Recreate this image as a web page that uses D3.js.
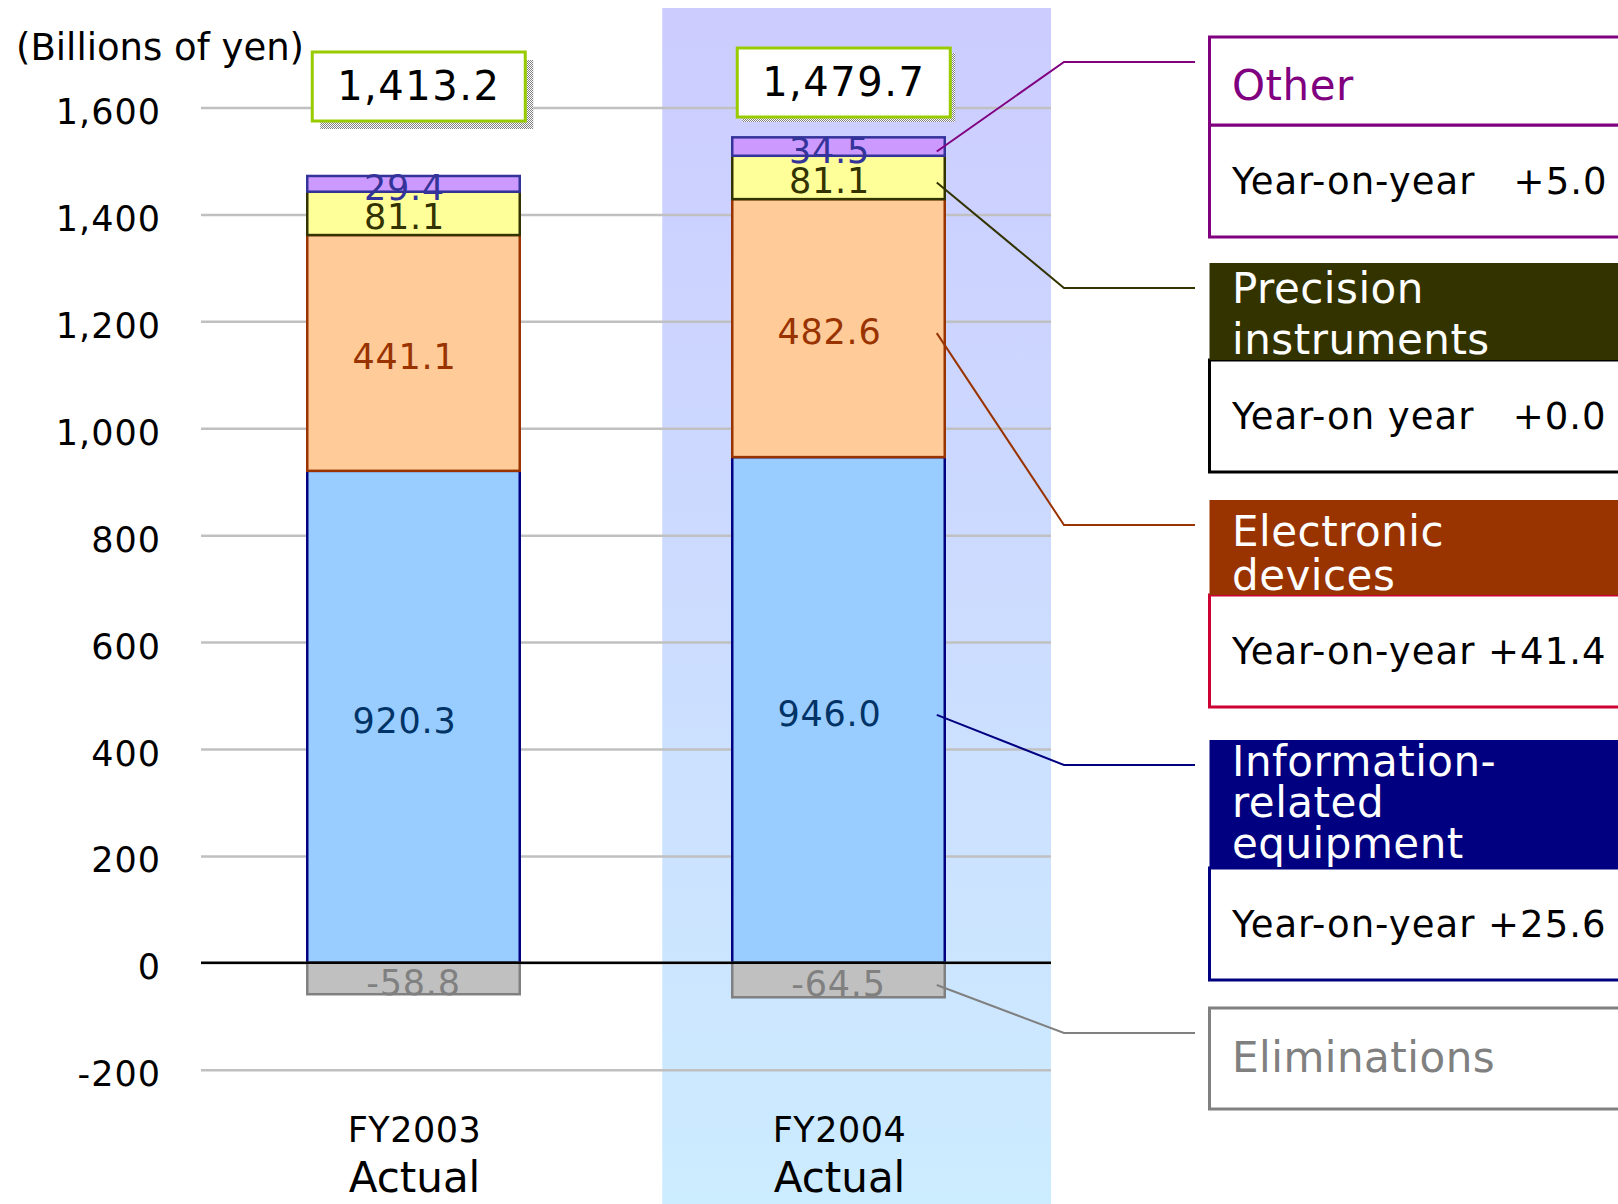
<!DOCTYPE html>
<html>
<head>
<meta charset="utf-8">
<title>Net sales by segment, FY2003 vs FY2004</title>
<script src="https://cdn.jsdelivr.net/npm/d3@7"></script>
<style>
  html, body { margin: 0; padding: 0; background: #ffffff; }
  svg { display: block; font-family: "DejaVu Sans", "Noto Sans", sans-serif; }
</style>
</head>
<body>
<svg id="chart" width="1618" height="1204"></svg>
<script>
// ---- data (billions of yen) ----
const categories = ["FY2003", "FY2004"];
const categorySubtitles = ["Actual", "Actual"];
const infoValues = [920.3, 946.0];
const electronicValues = [441.1, 482.6];
const precisionValues = [81.1, 81.1];
const otherValues = [29.4, 34.5];
const eliminationValues = [-58.8, -64.5];
const totals = [1413.2, 1479.7];
const yTicks = [-200, 0, 200, 400, 600, 800, 1000, 1200, 1400, 1600];
const segmentNames = ["Information-related equipment", "Electronic devices", "Precision instruments", "Other", "Eliminations"];
const yoyPrefix = ["Year-on-year ", "Year-on-year ", "Year-on year   ", "Year-on-year   "];
const yoyChange = [25.6, 41.4, 0.0, 5.0];
const unitLabel = "(Billions of yen)";

// ---- scales ----
const svg = d3.select("#chart");
const x = d3.scaleBand().domain(categories).range([201, 1051]).paddingInner(0.5).paddingOuter(0.25);
const y = d3.scaleLinear().domain([-200, 1600]).range([1069.7, 107.5]);
const bw = x.bandwidth();

const series = [
  { name: segmentNames[0], values: infoValues,        fill: "#99CCFF", stroke: "#000080", text: "#003366", dx: -9 },
  { name: segmentNames[1], values: electronicValues,  fill: "#FFCC99", stroke: "#993300", text: "#993300", dx: -9 },
  { name: segmentNames[2], values: precisionValues,   fill: "#FFFF99", stroke: "#333300", text: "#333300", dx: -9 },
  { name: segmentNames[3], values: otherValues,       fill: "#CC99FF", stroke: "#333399", text: "#333399", dx: -9 },
  { name: segmentNames[4], values: eliminationValues, fill: "#C0C0C0", stroke: "#808080", text: "#808080", dx: 0 }
];

// stack positive values upward from zero, negative values downward
const segs = [];
categories.forEach((c, ci) => {
  let pos = 0, neg = 0;
  series.forEach((s, si) => {
    const v = s.values[ci];
    let v0, v1;
    if (v >= 0) { v0 = pos; v1 = pos + v; pos = v1; }
    else { v0 = neg; v1 = neg + v; neg = v1; }
    segs.push({ cat: c, ci, si, s, v, v0, v1 });
  });
});

// ---- defs: highlight gradient and checkered shadow ----
const defs = svg.append("defs");
const grad = defs.append("linearGradient").attr("id", "hl").attr("x1", 0).attr("y1", 0).attr("x2", 0).attr("y2", 1);
grad.append("stop").attr("offset", "0%").attr("stop-color", "#CCCCFF");
grad.append("stop").attr("offset", "100%").attr("stop-color", "#CCECFF");
const pat = defs.append("pattern").attr("id", "checker").attr("width", 2).attr("height", 2)
  .attr("patternUnits", "userSpaceOnUse");
pat.append("rect").attr("width", 2).attr("height", 2).attr("fill", "#ffffff");
pat.append("rect").attr("width", 1).attr("height", 1).attr("fill", "#808080");
pat.append("rect").attr("x", 1).attr("y", 1).attr("width", 1).attr("height", 1).attr("fill", "#808080");

// highlighted current-year column
svg.append("rect")
  .attr("x", x("FY2004") - 70).attr("y", 8)
  .attr("width", x.range()[1] - (x("FY2004") - 70)).attr("height", 1204 - 8)
  .attr("fill", "url(#hl)");

// ---- y axis with gridlines ----
const fmt = v => d3.format(",")(v).replace("\u2212", "-");
const yAxis = d3.axisLeft(y).tickValues(yTicks).tickFormat(fmt)
  .tickSizeInner(-(x.range()[1] - x.range()[0])).tickSizeOuter(0).tickPadding(40);
const gAxis = svg.append("g").attr("transform", `translate(${x.range()[0]},0)`).call(yAxis);
gAxis.select(".domain").remove();
gAxis.selectAll(".tick line").attr("stroke", "#C0C0C0").attr("stroke-width", 2.5);
gAxis.selectAll(".tick text")
  .attr("fill", "#000").attr("font-size", 35).attr("letter-spacing", 1)
  .attr("font-family", "DejaVu Sans").attr("dy", "0.46em");

// ---- stacked bars ----
svg.append("g").selectAll("rect").data(segs).join("rect")
  .attr("x", d => x(d.cat))
  .attr("y", d => y(Math.max(d.v0, d.v1)))
  .attr("width", bw)
  .attr("height", d => Math.abs(y(d.v0) - y(d.v1)))
  .attr("fill", d => d.s.fill)
  .attr("stroke", d => d.s.stroke)
  .attr("stroke-width", 2.5);

// zero baseline
svg.append("line")
  .attr("x1", x.range()[0]).attr("x2", x.range()[1])
  .attr("y1", y(0)).attr("y2", y(0))
  .attr("stroke", "#000").attr("stroke-width", 2.5);

// segment value labels
svg.append("g").selectAll("text").data(segs).join("text")
  .attr("x", d => x(d.cat) + bw / 2 + d.s.dx)
  .attr("y", d => (y(d.v0) + y(d.v1)) / 2 + 16)
  .attr("text-anchor", "middle")
  .attr("font-size", 35)
  .attr("letter-spacing", 0.8)
  .attr("fill", d => d.s.text)
  .text(d => d3.format(".1f")(d.v).replace("\u2212", "-"));

// ---- totals boxes ----
const boxTop = [52, 48];
const boxShadow = [8, 5];
const gTot = svg.append("g");
categories.forEach((c, i) => {
  const bx = x(c) + 5, bwid = 213, bh = 69, by = boxTop[i], off = boxShadow[i];
  gTot.append("rect").attr("x", bx + off).attr("y", by + off).attr("width", bwid).attr("height", bh)
    .attr("fill", "url(#checker)");
  gTot.append("rect").attr("x", bx).attr("y", by).attr("width", bwid).attr("height", bh)
    .attr("fill", "#fff").attr("stroke", "#99CC00").attr("stroke-width", 3);
  gTot.append("text").attr("x", bx + bwid / 2).attr("y", by + 48)
    .attr("text-anchor", "middle").attr("font-size", 40).attr("letter-spacing", 1.5)
    .attr("fill", "#000").text(d3.format(",.1f")(totals[i]));
});

// ---- category labels ----
const gCat = svg.append("g");
categories.forEach((c, i) => {
  const cx = x(c) + bw / 2 + 1;
  gCat.append("text").attr("x", cx).attr("y", 1142).attr("text-anchor", "middle")
    .attr("font-size", 35).attr("letter-spacing", 0.5).attr("fill", "#000").text(c);
  gCat.append("text").attr("x", cx).attr("y", 1192).attr("text-anchor", "middle")
    .attr("font-size", 42).attr("fill", "#000").text(categorySubtitles[i]);
});

// unit label
svg.append("text").attr("x", 16).attr("y", 60).attr("font-size", 37).attr("fill", "#000").text(unitLabel);

// ---- segment legend boxes with leader lines ----
const legendX = 1209.5, legendRight = 1650, textX = 1232;
const legend = [
  { si: 3, top: 37, headBottom: 125, bottom: 237, lines: ["Other"], first: 100, gap: 0,
    headFill: "#ffffff", headText: "#800080", border: "#800080" },
  { si: 2, top: 263, headBottom: 360, bottom: 472, lines: ["Precision", "instruments"], first: 303, gap: 51,
    headFill: "#333300", headText: "#ffffff", border: "#000000" },
  { si: 1, top: 500, headBottom: 595, bottom: 707, lines: ["Electronic", "devices"], first: 546, gap: 44,
    headFill: "#993300", headText: "#ffffff", border: "#CC0033" },
  { si: 0, top: 740, headBottom: 868, bottom: 980, lines: ["Information-", "related", "equipment"], first: 776, gap: 41,
    headFill: "#000080", headText: "#ffffff", border: "#000080" },
  { si: 4, top: 1008, headBottom: null, bottom: 1109, lines: ["Eliminations"], first: 1072, gap: 0,
    headFill: "#ffffff", headText: "#808080", border: "#808080" }
];
const leaderColor = ["#000080", "#993300", "#333300", "#800080", "#808080"];
const gLeg = svg.append("g");
const last = categories[categories.length - 1];
legend.forEach(L => {
  // leader from the latest-year segment to its legend box
  const seg = segs.find(d => d.cat === last && d.si === L.si);
  const sx = x(last) + bw - 8, sy = (y(seg.v0) + y(seg.v1)) / 2 + 5;
  const ly = L.top + 25;
  gLeg.append("polyline")
    .attr("points", `${sx},${sy} 1064,${ly} 1195,${ly}`)
    .attr("fill", "none").attr("stroke", leaderColor[L.si]).attr("stroke-width", 2);

  if (L.headBottom !== null) {
    // body
    gLeg.append("rect").attr("x", legendX).attr("y", L.headBottom)
      .attr("width", legendRight - legendX).attr("height", L.bottom - L.headBottom)
      .attr("fill", "#fff").attr("stroke", L.border).attr("stroke-width", 3);
    // header
    gLeg.append("rect").attr("x", legendX).attr("y", L.top)
      .attr("width", legendRight - legendX).attr("height", L.headBottom - L.top)
      .attr("fill", L.headFill)
      .attr("stroke", L.headFill === "#ffffff" ? L.border : "none").attr("stroke-width", 3);
    const k = L.si;
    gLeg.append("text").attr("x", textX).attr("y", (L.headBottom + L.bottom) / 2 + 13)
      .attr("font-size", 37).attr("letter-spacing", 1).attr("fill", "#000")
      .attr("xml:space", "preserve").style("white-space", "pre")
      .text(yoyPrefix[k] + "+" + d3.format(".1f")(yoyChange[k]));
  } else {
    gLeg.append("rect").attr("x", legendX).attr("y", L.top)
      .attr("width", legendRight - legendX).attr("height", L.bottom - L.top)
      .attr("fill", "#fff").attr("stroke", L.border).attr("stroke-width", 3);
  }
  L.lines.forEach((ln, j) => {
    gLeg.append("text").attr("x", textX).attr("y", L.first + j * L.gap)
      .attr("font-size", 42).attr("letter-spacing", 0.5).attr("fill", L.headText).text(ln);
  });
});
</script>
</body>
</html>
